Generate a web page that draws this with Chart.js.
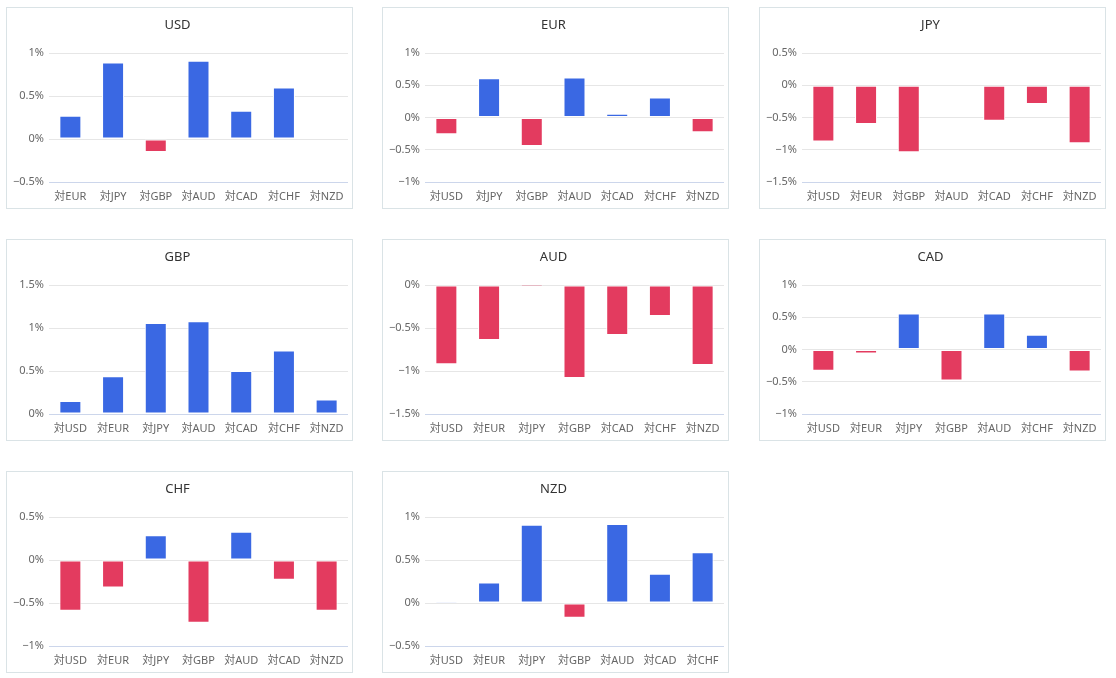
<!DOCTYPE html>
<html>
<head>
<meta charset="utf-8">
<script src="https://cdn.jsdelivr.net/npm/chart.js@4.4.1/dist/chart.umd.min.js"></script>
<style>
  html, body { margin: 0; padding: 0; background: #ffffff; }
  body { width: 1116px; height: 678px; position: relative; overflow: hidden; }
  .panel { position: absolute; width: 345px; height: 200px; border: 1px solid #dae3e6; background: #fff; }
  .panel canvas { display: block; }
</style>
</head>
<body>
<script>
// Currencies (panel titles) and category order
const currencies = ['USD', 'EUR', 'JPY', 'GBP', 'AUD', 'CAD', 'CHF', 'NZD'];

// Values (%) against each other currency, in the currency order above (self omitted)
const usdValues = [0.27, 0.89, -0.15, 0.91, 0.33, 0.60, 0];
const eurValues = [-0.26, 0.61, -0.44, 0.62, 0.06, 0.31, -0.23];
const jpyValues = [-0.87, -0.60, -1.04, 0, -0.55, -0.29, -0.90];
const gbpValues = [0.15, 0.44, 1.06, 1.08, 0.50, 0.74, 0.17];
const audValues = [-0.92, -0.64, -0.01, -1.08, -0.58, -0.36, -0.93];
const cadValues = [-0.33, -0.06, 0.56, -0.48, 0.56, 0.23, -0.34];
const chfValues = [-0.59, -0.32, 0.29, -0.73, 0.33, -0.23, -0.59];
const nzdValues = [0.01, 0.24, 0.91, -0.17, 0.92, 0.34, 0.59];

// Y axis tick bounds (%) per panel
const axisMin = [-0.5, -1, -1.5, 0, -1.5, -1, -1, -0.5];
const axisMax = [1, 1, 0.5, 1.5, 0, 1, 0.5, 1];
const tickStep = 0.5;

const seriesValues = [usdValues, eurValues, jpyValues, gbpValues, audValues, cadValues, chfValues, nzdValues];

const BLUE = '#3a68e3';
const RED = '#e33b5f';

Chart.defaults.font.family = "'Noto Sans', 'Noto Sans CJK JP', sans-serif";
Chart.defaults.font.size = 11;
Chart.defaults.color = '#666666';

const lefts = [6, 382, 759];
const tops = [7, 239, 471];

function fmt(v) {
  if (Math.abs(v) < 1e-9) return '0%';
  return (v < 0 ? '\u2212' : '') + parseFloat(Math.abs(v).toFixed(2)) + '%';
}

currencies.forEach((cur, i) => {
  const div = document.createElement('div');
  div.className = 'panel';
  div.style.left = lefts[i % 3] + 'px';
  div.style.top = tops[Math.floor(i / 3)] + 'px';
  const canvas = document.createElement('canvas');
  div.appendChild(canvas);
  document.body.appendChild(div);

  const labels = currencies.filter(c => c !== cur).map(c => '対' + c);
  const vals = seriesValues[i];

  new Chart(canvas, {
    type: 'bar',
    data: {
      labels: labels,
      datasets: [{
        data: vals,
        backgroundColor: ctx => (ctx.raw < 0 ? RED : BLUE),
        borderColor: '#ffffff',
        borderWidth: ctx => (Math.abs(ctx.raw) < 0.03
          ? { left: 1, right: 1, top: 0, bottom: 0 }
          : 1),
        borderSkipped: false,
        categoryPercentage: 1,
        barPercentage: 0.515
      }]
    },
    options: {
      responsive: true,
      maintainAspectRatio: false,
      animation: false,
      layout: { padding: { left: 0, right: 4, top: 0, bottom: 0 } },
      plugins: {
        legend: { display: false },
        tooltip: { enabled: false },
        title: {
          display: true,
          text: cur,
          color: '#333333',
          font: { size: 13, weight: 'normal' },
          padding: { top: 9, bottom: 20.5 }
        }
      },
      scales: {
        x: {
          grid: { display: false, drawTicks: false },
          border: { display: false },
          ticks: { padding: 8, color: '#666666', font: { size: 11 }, maxRotation: 0, autoSkip: false },
          afterFit: s => { s.height = 26; }
        },
        y: {
          min: axisMin[i],
          max: axisMax[i],
          grid: {
            drawTicks: false,
            color: ctx => (ctx.tick && Math.abs(ctx.tick.value - axisMin[i]) < 1e-9 ? '#ccd6eb' : '#e6e6e6')
          },
          border: { display: false },
          ticks: {
            stepSize: tickStep,
            padding: 5,
            color: '#666666',
            font: { size: 11 },
            callback: v => fmt(v)
          },
          afterFit: s => { s.width = 42; }
        }
      }
    }
  });
});
</script>
</body>
</html>
